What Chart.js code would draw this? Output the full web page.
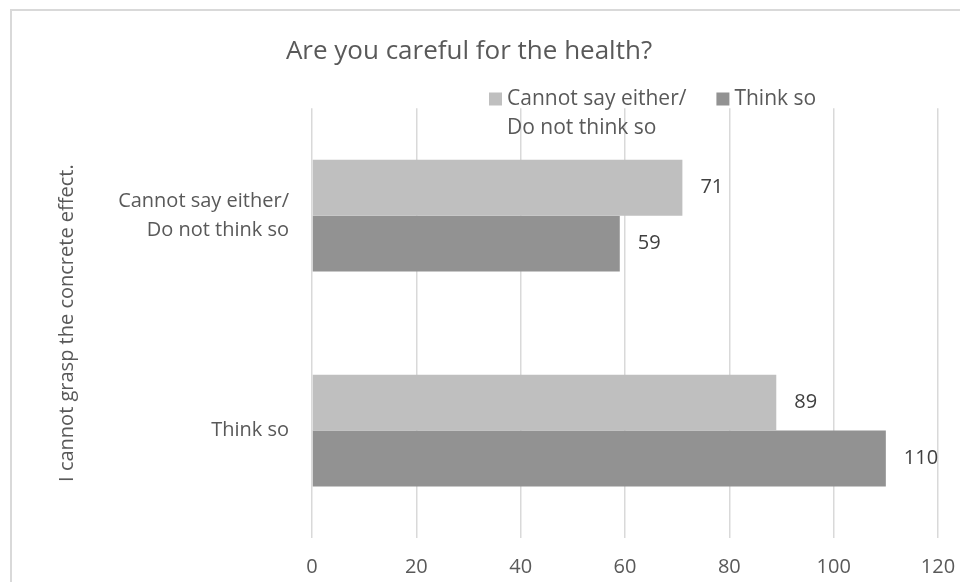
<!DOCTYPE html>
<html>
<head>
<meta charset="utf-8">
<script src="https://cdn.jsdelivr.net/npm/chart.js@4/dist/chart.umd.min.js"></script>
<style>
  html, body { margin: 0; padding: 0; background: #fff; }
  #wrap { position: relative; width: 960px; height: 582px; overflow: hidden; }
  #frame {
    position: absolute; left: 10px; top: 9px; width: 1000px; height: 640px;
    border-left: 2px solid #d9d9d9; border-top: 2px solid #d9d9d9;
  }
  #chart { position: absolute; left: 0; top: 0; }
</style>
</head>
<body>
<div id="wrap">
  <div id="frame"></div>
  <canvas id="chart" width="960" height="582"></canvas>
</div>
<script>
// answers to "I cannot grasp the concrete effect.", top to bottom
var categories = [["Cannot say either/", "Do not think so"], "Think so"];
var seriesNames = [["Cannot say either/", "Do not think so"], "Think so"];
var notSureValues = [71, 89];
var thinkSoValues = [59, 110];
var xTicks = [0, 20, 40, 60, 80, 100, 120];

var FONT = "'Open Sans', 'Noto Sans', sans-serif";
var TEXT = "#595959";

// legend drawn by hand so the box sits on the first text line
var legendBlock = {
    id: 'legendBlock',
    afterDraw: function(chart) {
        var ctx = chart.ctx;
        var x = 489, y = 99, box = 13, lineH = 29;
        ctx.save();
        ctx.font = "21px " + FONT;
        ctx.textBaseline = "middle";
        ctx.textAlign = "left";
        chart.data.datasets.forEach(function(ds) {
            var lines = [].concat(ds.label);
            ctx.fillStyle = ds.backgroundColor;
            ctx.fillRect(x, y - box / 2, box, box);
            ctx.fillStyle = TEXT;
            var w = 0;
            lines.forEach(function(line, i) {
                ctx.fillText(line, x + box + 5, y + i * lineH);
                w = Math.max(w, ctx.measureText(line).width);
            });
            x += box + 5 + w + 30;
        });
        ctx.restore();
    }
};

// value labels just past the end of each bar
var barValues = {
    id: 'barValues',
    afterDatasetsDraw: function(chart) {
        var ctx = chart.ctx;
        ctx.save();
        ctx.font = "20px " + FONT;
        ctx.fillStyle = "#404040";
        ctx.textBaseline = "middle";
        ctx.textAlign = "left";
        chart.data.datasets.forEach(function(ds, i) {
            chart.getDatasetMeta(i).data.forEach(function(bar, j) {
                ctx.fillText(ds.data[j], bar.x + 18, bar.y);
            });
        });
        ctx.restore();
    }
};

var ctx = document.getElementById("chart");
var myBarChart = new Chart(ctx, {
    type: 'bar',
    data: {
        labels: categories,
        datasets: [
            {
                label: seriesNames[0],
                backgroundColor: "#bfbfbf",
                data: notSureValues
            },
            {
                label: seriesNames[1],
                backgroundColor: "#929292",
                data: thinkSoValues
            }
        ]
    },
    plugins: [legendBlock, barValues],
    options: {
        indexAxis: 'y',
        responsive: false,
        animation: false,
        layout: { padding: { left: 0, right: 22, top: 0, bottom: 0 } },
        datasets: {
            bar: { barPercentage: 1, categoryPercentage: 0.52 }
        },
        plugins: {
            legend: { display: false },
            tooltip: { enabled: false },
            title: {
                display: true,
                text: "Are you careful for the health?",
                color: TEXT,
                font: { family: FONT, size: 26, weight: 'normal' },
                padding: { top: 36, bottom: 41 }
            }
        },
        scales: {
            x: {
                min: 0,
                max: 120,
                afterBuildTicks: function(scale) {
                    scale.ticks = xTicks.map(function(v) { return { value: v }; });
                },
                afterFit: function(scale) {
                    scale.height = 44;
                    scale.paddingLeft = 0;
                    scale.paddingRight = 0;
                },
                grid: { color: "#d9d9d9", lineWidth: 1.5, drawTicks: false },
                border: { display: false },
                ticks: {
                    color: TEXT,
                    padding: 17,
                    font: { family: FONT, size: 20 }
                }
            },
            y: {
                afterFit: function(scale) { scale.width = 312; },
                grid: { display: false },
                border: { display: false },
                ticks: {
                    color: TEXT,
                    padding: 15,
                    font: { family: FONT, size: 20, lineHeight: 1.45 }
                },
                title: {
                    display: true,
                    text: "I cannot grasp the concrete effect.",
                    color: TEXT,
                    font: { family: FONT, size: 20 },
                    padding: { top: 55, bottom: 0 }
                }
            }
        }
    }
});
</script>
</body>
</html>
